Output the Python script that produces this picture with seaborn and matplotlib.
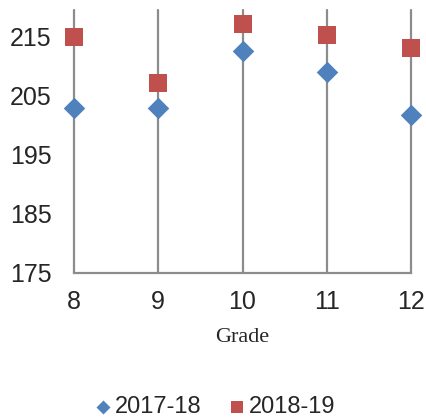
import pandas as pd
import matplotlib.pyplot as plt
import seaborn as sns

# values
grades = [8, 9, 10, 11, 12]
scores_1718 = [203.0, 203.0, 212.6, 209.0, 201.7]
scores_1819 = [215.0, 207.2, 217.2, 215.3, 213.1]
series_names = ["2017-18", "2018-19"]
y_ticks = [175, 185, 195, 205, 215]

df_1718 = pd.DataFrame({"Grade": grades, "Score": scores_1718})
df_1819 = pd.DataFrame({"Grade": grades, "Score": scores_1819})

sns.set_style("white")
plt.rcParams["font.family"] = ["Liberation Sans", "DejaVu Sans"]

fig = plt.figure(figsize=(4.27, 4.20), dpi=100)
ax = fig.add_axes([0.173, 0.35, 0.79, 0.627])

grid_color = "#8c8c8c"
for g in grades:
    ax.axvline(g, color=grid_color, linewidth=1.6, zorder=1, clip_on=False)

sns.scatterplot(data=df_1718, x="Grade", y="Score", marker="D", color="#4F81BD",
                s=120, linewidth=0, ax=ax, zorder=3, clip_on=False, label=series_names[0])
sns.scatterplot(data=df_1819, x="Grade", y="Score", marker="s", color="#C0504D",
                s=169, linewidth=0, ax=ax, zorder=3, clip_on=False, label=series_names[1])

ax.set_xlim(8, 12)
ax.set_ylim(175, 219.6)
ax.set_xticks(grades)
ax.set_yticks(y_ticks)
ax.tick_params(axis="both", labelsize=18, length=0)
ax.tick_params(axis="y", pad=16)
ax.tick_params(axis="x", pad=12)

for side in ["top", "left", "right"]:
    ax.spines[side].set_visible(False)
ax.spines["bottom"].set_color(grid_color)
ax.spines["bottom"].set_linewidth(1.6)

ax.set_ylabel("")
ax.set_xlabel("Grade", family=["Liberation Serif", "DejaVu Serif"], fontsize=16, labelpad=10)

leg = ax.legend(loc="center", bbox_to_anchor=(0.5, 0.031),
                bbox_transform=fig.transFigure, ncol=2, frameon=False, markerscale=0.65,
                fontsize=17, handletextpad=0.0, columnspacing=1.0, handlelength=1.0)

fig.savefig("out.png", dpi=100)
